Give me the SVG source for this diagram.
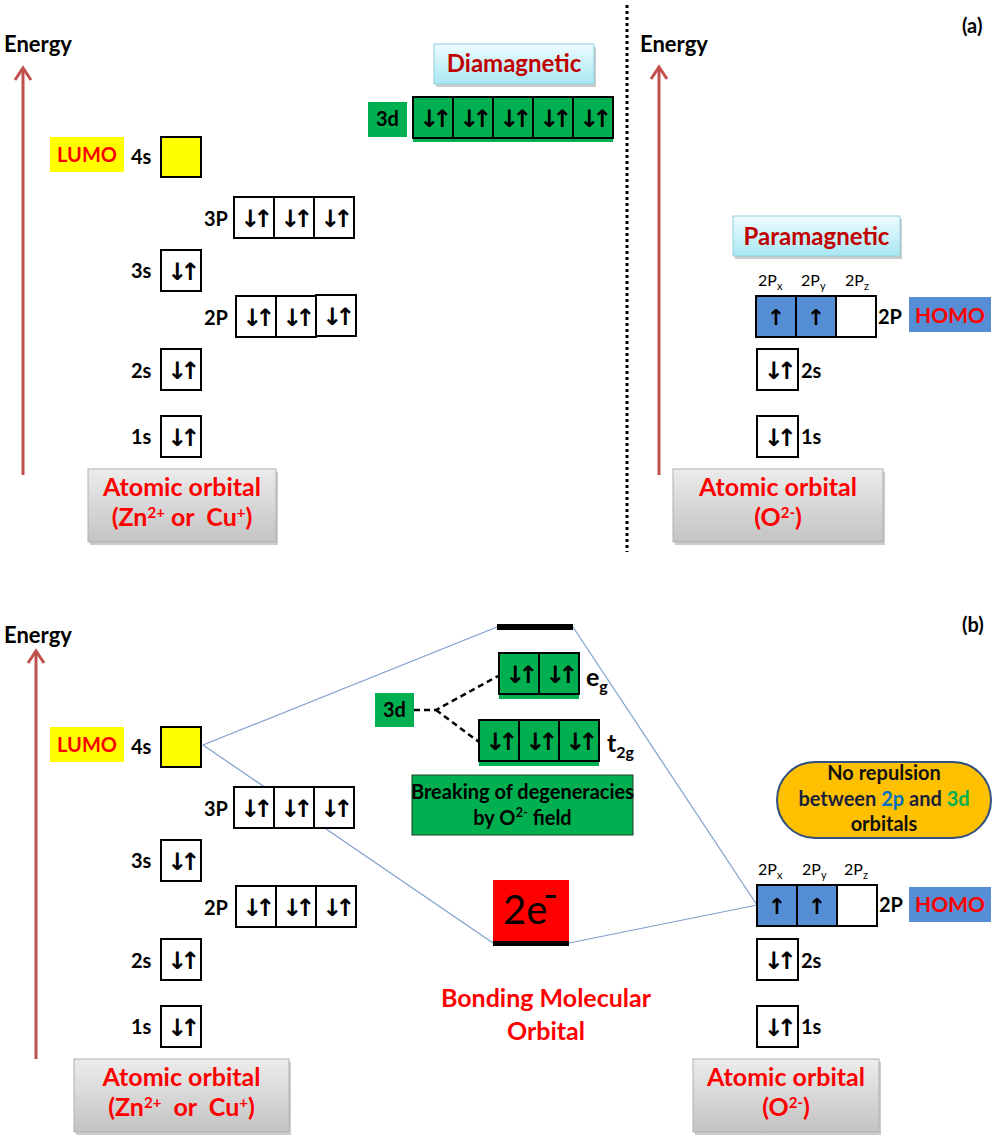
<svg xmlns="http://www.w3.org/2000/svg" width="1000" height="1141" viewBox="0 0 1000 1141">
<defs>
<linearGradient id="gGray" x1="0" y1="0" x2="0" y2="1"><stop offset="0" stop-color="#ececec"/><stop offset="1" stop-color="#c3c3c3"/></linearGradient>
<linearGradient id="gCyan" x1="0" y1="0" x2="0" y2="1"><stop offset="0" stop-color="#eefcff"/><stop offset="1" stop-color="#a9e7f2"/></linearGradient>
</defs>
<style>
.t{font-family:Lato,"Liberation Sans",sans-serif}
.b{font-weight:bold}
.lbl{font-family:Lato,"Liberation Sans",sans-serif;font-weight:bold;font-size:20px;fill:#000}
.ob{fill:#fff;stroke:#000;stroke-width:2}
.og{fill:#00B050;stroke:#000;stroke-width:2}
.oy{fill:#FFFF00;stroke:#000;stroke-width:2}
.obl{fill:#558ED5;stroke:#000;stroke-width:2}
.ar{font-family:"DejaVu Sans",sans-serif;font-weight:bold;font-size:24px;letter-spacing:-7px;text-anchor:middle;fill:#000}
.ar1{font-family:"DejaVu Sans",sans-serif;font-weight:bold;font-size:22px;text-anchor:middle;fill:#000}
.gray{fill:url(#gGray);stroke:#b0b0b0;stroke-width:1}
.shadow{fill:#9a9a9a;opacity:0.5}
.ao{font-family:Lato,"Liberation Sans",sans-serif;font-weight:bold;font-size:25px;fill:#FF0000;text-anchor:middle}
.en{font-family:Lato,"Liberation Sans",sans-serif;font-weight:bold;font-size:22px;fill:#000}
.axis{stroke:#C0504D;stroke-width:3;fill:none}
.sub{font-family:Lato,"Liberation Sans",sans-serif;font-size:16px;fill:#000}
.conn{stroke:#7F9FCC;stroke-width:1.2;fill:none}
</style>

<!-- divider -->
<line x1="627" y1="5" x2="627" y2="552" stroke="#000" stroke-width="3" stroke-dasharray="3 3"/>

<text class="t b" x="962" y="33" font-size="20">(a)</text>
<text class="t b" x="962" y="632" font-size="20">(b)</text>

<!-- ===== (a) left ===== -->
<g id="axis-a-left">
<text class="en" x="4" y="52">Energy</text>
<line class="axis" x1="23" y1="475" x2="23" y2="68"/>
<polyline class="axis" points="15,80 23,68 31,80"/>
</g>

<g id="lumo-a">
<rect x="50" y="137" width="74" height="35" fill="#FFFF00"/>
<text class="t b" x="87" y="162" font-size="20" fill="#FF0000" text-anchor="middle">LUMO</text>
</g>

<g id="zn-4s-a">
<text class="lbl" x="131" y="164">4s</text>
<rect class="oy" x="161" y="137" width="40" height="40"/>
</g>

<g id="zn-3p-a">
<text class="lbl" x="204" y="226">3P</text>
<rect class="ob" x="234" y="197" width="40" height="41"/>
<rect class="ob" x="274" y="197" width="40" height="41"/>
<rect class="ob" x="314" y="197" width="40" height="41"/>
<text class="ar" x="253" y="227">↓↑</text>
<text class="ar" x="293" y="227">↓↑</text>
<text class="ar" x="333" y="227">↓↑</text>
</g>

<g id="zn-3s-a">
<text class="lbl" x="131" y="278">3s</text>
<rect class="ob" x="161" y="250" width="40" height="41"/>
<text class="ar" x="180" y="280">↓↑</text>
</g>

<g id="zn-2p-a">
<text class="lbl" x="204" y="325">2P</text>
<rect class="ob" x="236" y="296" width="40" height="41"/>
<rect class="ob" x="276" y="296" width="40" height="41"/>
<rect class="ob" x="316" y="295" width="40" height="41"/>
<text class="ar" x="255" y="326">↓↑</text>
<text class="ar" x="295" y="326">↓↑</text>
<text class="ar" x="335" y="325">↓↑</text>
</g>

<g id="zn-2s-a">
<text class="lbl" x="131" y="378">2s</text>
<rect class="ob" x="161" y="349" width="40" height="41"/>
<text class="ar" x="180" y="379">↓↑</text>
</g>

<g id="zn-1s-a">
<text class="lbl" x="131" y="444">1s</text>
<rect class="ob" x="161" y="416" width="40" height="41"/>
<text class="ar" x="180" y="446">↓↑</text>
</g>

<g id="ao-zn-a">
<rect class="shadow" x="90" y="472" width="188" height="73"/>
<rect class="gray" x="88" y="469" width="188" height="73"/>
<text class="ao" x="182" y="496">Atomic orbital</text>
<text class="ao" x="182" y="526">(Zn<tspan font-size="15" dy="-8">2+</tspan><tspan dy="8"> or &#160;Cu</tspan><tspan font-size="15" dy="-8">+</tspan><tspan dy="8">)</tspan></text>
</g>

<g id="diamagnetic">
<rect class="shadow" x="436" y="47" width="160" height="40"/>
<rect x="434" y="44" width="160" height="40" fill="url(#gCyan)" stroke="#8fd0dd" stroke-width="1"/>
<text class="t b" x="514" y="72" font-size="24" fill="#C00000" text-anchor="middle">Diamagnetic</text>
</g>

<g id="zn-3d-a">
<rect x="368" y="102" width="39" height="35" fill="#00B050"/>
<text class="lbl" x="387.5" y="126" text-anchor="middle">3d</text>
<rect x="413" y="137" width="200" height="5" fill="#00B050"/>
<rect class="og" x="413" y="97" width="40" height="41"/>
<rect class="og" x="453" y="97" width="40" height="41"/>
<rect class="og" x="493" y="97" width="40" height="41"/>
<rect class="og" x="533" y="97" width="40" height="41"/>
<rect class="og" x="573" y="97" width="40" height="41"/>
<text class="ar" x="432" y="127">↓↑</text>
<text class="ar" x="472" y="127">↓↑</text>
<text class="ar" x="512" y="127">↓↑</text>
<text class="ar" x="552" y="127">↓↑</text>
<text class="ar" x="592" y="127">↓↑</text>
</g>

<!-- ===== (a) right ===== -->
<g id="axis-a-right">
<text class="en" x="640" y="52">Energy</text>
<line class="axis" x1="659" y1="475" x2="659" y2="67"/>
<polyline class="axis" points="651,79 659,67 667,79"/>
</g>

<g id="paramagnetic">
<rect class="shadow" x="735" y="219" width="167" height="40"/>
<rect x="733" y="216" width="167" height="40" fill="url(#gCyan)" stroke="#8fd0dd" stroke-width="1"/>
<text class="t b" x="816.5" y="245" font-size="24" fill="#C00000" text-anchor="middle">Paramagnetic</text>
</g>

<g id="o-2p-a">
<text class="sub" x="758" y="286">2P<tspan font-size="11" dy="4">x</tspan></text>
<text class="sub" x="801" y="286">2P<tspan font-size="11" dy="4">y</tspan></text>
<text class="sub" x="845" y="286">2P<tspan font-size="11" dy="4">z</tspan></text>
<rect class="obl" x="756" y="296" width="40" height="41"/>
<rect class="obl" x="796" y="296" width="40" height="41"/>
<rect class="ob" x="836" y="296" width="40" height="41"/>
<text class="ar1" x="776" y="325">↑</text>
<text class="ar1" x="816" y="325">↑</text>
<text class="lbl" x="878" y="324">2P</text>
</g>

<g id="homo-a">
<rect x="909" y="297" width="82" height="35" fill="#558ED5"/>
<text class="t b" x="950" y="323" font-size="21" fill="#FF0000" text-anchor="middle">HOMO</text>
</g>

<g id="o-2s-a">
<rect class="ob" x="757" y="349" width="41" height="41"/>
<text class="ar" x="776.5" y="379">↓↑</text>
<text class="lbl" x="801" y="378">2s</text>
</g>

<g id="o-1s-a">
<rect class="ob" x="757" y="416" width="41" height="41"/>
<text class="ar" x="776.5" y="446">↓↑</text>
<text class="lbl" x="801" y="444">1s</text>
</g>

<g id="ao-o-a">
<rect class="shadow" x="675" y="472" width="210" height="73"/>
<rect class="gray" x="673" y="469" width="210" height="73"/>
<text class="ao" x="778" y="496">Atomic orbital</text>
<text class="ao" x="778" y="526">(O<tspan font-size="15" dy="-8">2-</tspan><tspan dy="8">)</tspan></text>
</g>

<!-- ===== (b) ===== -->
<g id="connectors">
<line class="conn" x1="203" y1="745" x2="497" y2="627"/>
<line class="conn" x1="203" y1="745" x2="493" y2="943"/>
<line class="conn" x1="573" y1="627" x2="757" y2="905"/>
<line class="conn" x1="569" y1="943" x2="757" y2="905"/>
<path d="M414,710 L436,710 L498,676 M436,710 L479,742" stroke="#000" stroke-width="2.5" stroke-dasharray="6 4" fill="none"/>
</g>

<g id="axis-b">
<text class="en" x="4" y="643">Energy</text>
<line class="axis" x1="36" y1="1059" x2="36" y2="651"/>
<polyline class="axis" points="28,663 36,651 44,663"/>
</g>

<g id="lumo-b">
<rect x="50" y="727" width="74" height="35" fill="#FFFF00"/>
<text class="t b" x="87" y="752" font-size="20" fill="#FF0000" text-anchor="middle">LUMO</text>
</g>

<g id="zn-4s-b">
<text class="lbl" x="131" y="754">4s</text>
<rect class="oy" x="161" y="727" width="40" height="40"/>
</g>

<g id="zn-3p-b">
<text class="lbl" x="204" y="816">3P</text>
<rect class="ob" x="234" y="787" width="40" height="41"/>
<rect class="ob" x="274" y="787" width="40" height="41"/>
<rect class="ob" x="314" y="787" width="40" height="41"/>
<text class="ar" x="253" y="817">↓↑</text>
<text class="ar" x="293" y="817">↓↑</text>
<text class="ar" x="333" y="817">↓↑</text>
</g>

<g id="zn-3s-b">
<text class="lbl" x="131" y="868">3s</text>
<rect class="ob" x="161" y="840" width="40" height="41"/>
<text class="ar" x="180" y="870">↓↑</text>
</g>

<g id="zn-2p-b">
<text class="lbl" x="204" y="915">2P</text>
<rect class="ob" x="236" y="886" width="40" height="41"/>
<rect class="ob" x="276" y="886" width="40" height="41"/>
<rect class="ob" x="316" y="886" width="40" height="41"/>
<text class="ar" x="255" y="916">↓↑</text>
<text class="ar" x="295" y="916">↓↑</text>
<text class="ar" x="335" y="916">↓↑</text>
</g>

<g id="zn-2s-b">
<text class="lbl" x="131" y="968">2s</text>
<rect class="ob" x="161" y="939" width="40" height="41"/>
<text class="ar" x="180" y="969">↓↑</text>
</g>

<g id="zn-1s-b">
<text class="lbl" x="131" y="1034">1s</text>
<rect class="ob" x="161" y="1006" width="40" height="41"/>
<text class="ar" x="180" y="1036">↓↑</text>
</g>

<g id="ao-zn-b">
<rect class="shadow" x="76" y="1062" width="215" height="73"/>
<rect class="gray" x="74" y="1059" width="215" height="73"/>
<text class="ao" x="181.5" y="1086">Atomic orbital</text>
<text class="ao" x="181.5" y="1116">(Zn<tspan font-size="15" dy="-8">2+</tspan><tspan dy="8"> &#160;or &#160;Cu</tspan><tspan font-size="15" dy="-8">+</tspan><tspan dy="8">)</tspan></text>
</g>

<g id="antibonding">
<rect x="497" y="624" width="76" height="6" fill="#000"/>
</g>

<g id="eg">
<rect x="499" y="693" width="80" height="6" fill="#00B050"/>
<rect class="og" x="499" y="653" width="40" height="41"/>
<rect class="og" x="539" y="653" width="40" height="41"/>
<text class="ar" x="518" y="683">↓↑</text>
<text class="ar" x="558" y="683">↓↑</text>
<text class="t b" x="586" y="686" font-size="25">e<tspan font-size="16" dy="6">g</tspan></text>
</g>

<g id="t2g">
<rect x="479" y="760" width="120" height="6" fill="#00B050"/>
<rect class="og" x="479" y="720" width="40" height="41"/>
<rect class="og" x="519" y="720" width="40" height="41"/>
<rect class="og" x="559" y="720" width="40" height="41"/>
<text class="ar" x="498" y="750">↓↑</text>
<text class="ar" x="538" y="750">↓↑</text>
<text class="ar" x="578" y="750">↓↑</text>
<text class="t b" x="607" y="752" font-size="25">t<tspan font-size="16" dy="6">2g</tspan></text>
</g>

<g id="d3-b">
<rect x="375" y="693" width="39" height="34" fill="#00B050"/>
<text class="lbl" x="394.5" y="717" text-anchor="middle">3d</text>
</g>

<g id="breaking">
<rect x="412" y="775" width="221" height="60" fill="#00B050" stroke="#1f3d1f" stroke-width="1"/>
<text class="t b" x="522.5" y="799" font-size="20" text-anchor="middle">Breaking of degeneracies</text>
<text class="t b" x="522.5" y="825" font-size="20" text-anchor="middle">by O<tspan font-size="13" dy="-8">2-</tspan><tspan dy="8"> field</tspan></text>
</g>

<g id="bonding">
<rect x="493" y="880" width="76" height="61" fill="#FF0000"/>
<rect x="493" y="941" width="76" height="5" fill="#000"/>
<text class="t" x="503" y="924" font-size="40">2e</text>
<rect x="546" y="895" width="10" height="3" fill="#000"/>
<text class="t b" x="546" y="1007" font-size="25" fill="#FF0000" text-anchor="middle">Bonding Molecular</text>
<text class="t b" x="546" y="1040" font-size="25" fill="#FF0000" text-anchor="middle">Orbital</text>
</g>

<g id="no-repulsion">
<rect x="777" y="762" width="214" height="76" rx="38" ry="38" fill="#FFC000" stroke="#2F4F7F" stroke-width="2"/>
<text class="t b" x="884" y="780" font-size="20" fill="#111" text-anchor="middle">No repulsion</text>
<text class="t b" x="884" y="806" font-size="20" fill="#1a1f3a" text-anchor="middle">between <tspan fill="#0070C0">2p</tspan> and <tspan fill="#00B050">3d</tspan></text>
<text class="t b" x="884" y="831" font-size="20" fill="#111" text-anchor="middle">orbitals</text>
</g>

<g id="o-2p-b">
<text class="sub" x="758" y="875">2P<tspan font-size="11" dy="4">x</tspan></text>
<text class="sub" x="802" y="875">2P<tspan font-size="11" dy="4">y</tspan></text>
<text class="sub" x="844" y="875">2P<tspan font-size="11" dy="4">z</tspan></text>
<rect class="obl" x="757" y="885" width="40" height="41"/>
<rect class="obl" x="797" y="885" width="40" height="41"/>
<rect class="ob" x="837" y="885" width="40" height="41"/>
<text class="ar1" x="777" y="914">↑</text>
<text class="ar1" x="817" y="914">↑</text>
<text class="lbl" x="879" y="912">2P</text>
</g>

<g id="homo-b">
<rect x="909" y="887" width="82" height="35" fill="#558ED5"/>
<text class="t b" x="950" y="912" font-size="21" fill="#FF0000" text-anchor="middle">HOMO</text>
</g>

<g id="o-2s-b">
<rect class="ob" x="757" y="939" width="41" height="41"/>
<text class="ar" x="776.5" y="969">↓↑</text>
<text class="lbl" x="801" y="968">2s</text>
</g>

<g id="o-1s-b">
<rect class="ob" x="757" y="1006" width="41" height="41"/>
<text class="ar" x="776.5" y="1036">↓↑</text>
<text class="lbl" x="801" y="1034">1s</text>
</g>

<g id="ao-o-b">
<rect class="shadow" x="695" y="1062" width="186" height="73"/>
<rect class="gray" x="693" y="1059" width="186" height="73"/>
<text class="ao" x="786" y="1086">Atomic orbital</text>
<text class="ao" x="786" y="1116">(O<tspan font-size="15" dy="-8">2-</tspan><tspan dy="8">)</tspan></text>
</g>
</svg>
